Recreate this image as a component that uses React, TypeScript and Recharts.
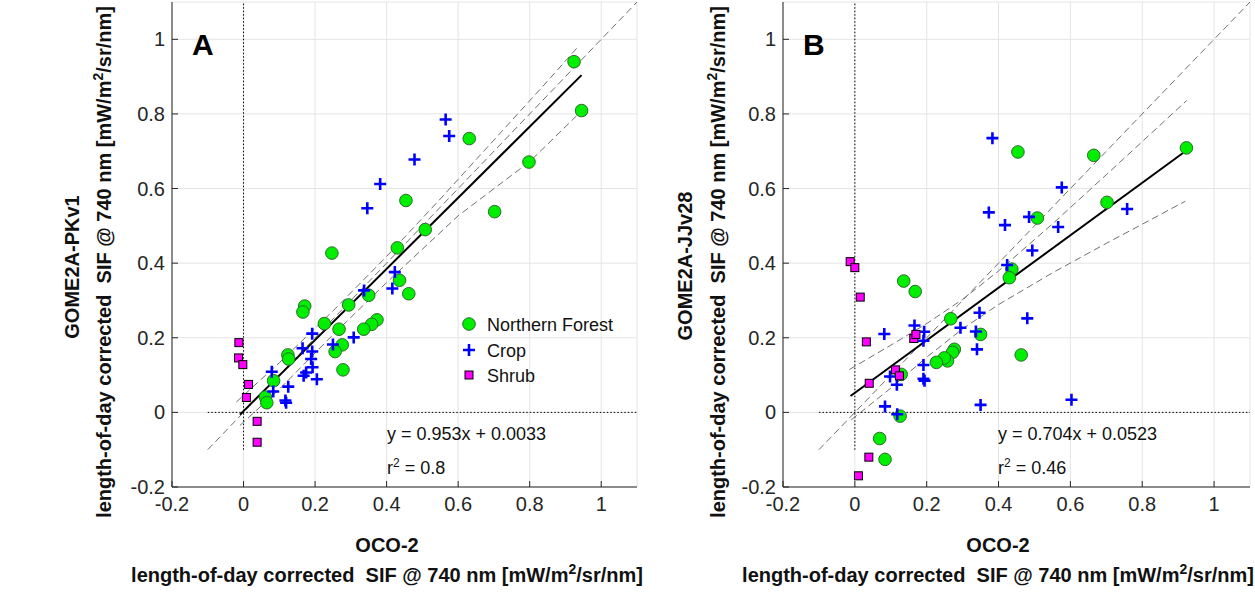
import React from 'react';
import {
  ScatterChart,
  Scatter,
  XAxis,
  YAxis,
  CartesianGrid,
  ReferenceLine,
} from 'recharts';

type Pt = { x: number; y: number };
const pts = (rows: number[][]): Pt[] => rows.map(([x, y]) => ({ x, y }));

const axisTicks = [-0.2, 0, 0.2, 0.4, 0.6, 0.8, 1];

// panel A: OCO-2 vs GOME2A-PKv1
const forestA = pts([
  [0.924, 0.94], [0.945, 0.809], [0.631, 0.734], [0.798, 0.671], [0.454, 0.568],
  [0.702, 0.538], [0.508, 0.49], [0.43, 0.441], [0.247, 0.427], [0.436, 0.354],
  [0.462, 0.318], [0.35, 0.314], [0.294, 0.288], [0.171, 0.285], [0.166, 0.269],
  [0.226, 0.238], [0.267, 0.223], [0.373, 0.248], [0.358, 0.236], [0.336, 0.223],
  [0.276, 0.181], [0.256, 0.163], [0.124, 0.154], [0.126, 0.143], [0.278, 0.114],
  [0.084, 0.085], [0.061, 0.041], [0.065, 0.026],
]);
const cropA = pts([
  [0.565, 0.785], [0.575, 0.741], [0.478, 0.678], [0.382, 0.612], [0.346, 0.547],
  [0.423, 0.376], [0.416, 0.332], [0.337, 0.327], [0.308, 0.201], [0.25, 0.182],
  [0.192, 0.211], [0.165, 0.172], [0.192, 0.163], [0.189, 0.143], [0.193, 0.121],
  [0.175, 0.107], [0.168, 0.098], [0.205, 0.089], [0.079, 0.109], [0.083, 0.056],
  [0.125, 0.069], [0.117, 0.032], [0.119, 0.026],
]);
const shrubA = pts([
  [-0.013, 0.187], [-0.014, 0.146], [-0.002, 0.128], [0.014, 0.075], [0.008, 0.04],
  [0.038, -0.024], [0.038, -0.08],
]);
const fitA = pts([[-0.01, -0.006], [0.945, 0.904]]);
const upperA = pts([
  [-0.02, 0.028], [0.1, 0.133], [0.25, 0.272], [0.4, 0.418], [0.55, 0.572],
  [0.7, 0.73], [0.85, 0.888], [0.937, 0.982],
]);
const lowerA = pts([
  [-0.01, -0.035], [0.1, 0.062], [0.25, 0.208], [0.4, 0.348], [0.6, 0.527],
  [0.8, 0.672], [0.945, 0.808],
]);

// panel B: OCO-2 vs GOME2A-JJv28
const forestB = pts([
  [0.923, 0.709], [0.454, 0.698], [0.665, 0.689], [0.702, 0.563], [0.508, 0.521],
  [0.437, 0.384], [0.43, 0.361], [0.136, 0.352], [0.168, 0.324], [0.267, 0.251],
  [0.35, 0.209], [0.463, 0.154], [0.277, 0.169], [0.272, 0.161], [0.258, 0.138],
  [0.249, 0.146], [0.227, 0.134], [0.129, 0.102], [0.126, -0.01], [0.069, -0.07],
  [0.084, -0.126],
]);
const cropB = pts([
  [0.383, 0.735], [0.576, 0.603], [0.373, 0.536], [0.418, 0.502], [0.485, 0.524],
  [0.566, 0.497], [0.758, 0.545], [0.494, 0.434], [0.424, 0.395], [0.347, 0.267],
  [0.48, 0.252], [0.294, 0.227], [0.337, 0.217], [0.34, 0.169], [0.166, 0.233],
  [0.193, 0.216], [0.191, 0.192], [0.082, 0.21], [0.191, 0.127], [0.191, 0.09],
  [0.194, 0.085], [0.098, 0.096], [0.117, 0.074], [0.084, 0.016], [0.118, -0.005],
  [0.35, 0.02], [0.603, 0.034],
]);
const shrubB = pts([
  [-0.013, 0.404], [0.0, 0.388], [0.015, 0.309], [0.032, 0.189], [0.164, 0.198],
  [0.17, 0.209], [0.113, 0.114], [0.124, 0.098], [0.04, 0.078], [0.039, -0.12],
  [0.01, -0.17],
]);
const fitB = pts([[-0.012, 0.044], [0.923, 0.702]]);
const upperB = pts([
  [-0.015, 0.115], [0.1, 0.18], [0.2, 0.238], [0.3, 0.303], [0.4, 0.379],
  [0.55, 0.505], [0.7, 0.637], [0.924, 0.836],
]);
const lowerB = pts([
  [-0.01, -0.02], [0.1, 0.065], [0.2, 0.148], [0.3, 0.224], [0.4, 0.289],
  [0.55, 0.374], [0.7, 0.453], [0.92, 0.566],
]);

const oneToOne = pts([[-0.1, -0.1], [1.1, 1.1]]);

const AX = '#262626';

const Circle = (p: any) => (
  <circle cx={p.cx} cy={p.cy} r={6.3} fill="#00ee00" stroke="#2e6b2e" strokeWidth={1} />
);
const Plus = (p: any) => (
  <path
    d={`M${p.cx - 6},${p.cy}H${p.cx + 6}M${p.cx},${p.cy - 6}V${p.cy + 6}`}
    stroke="#0000ff"
    strokeWidth={2.6}
    fill="none"
  />
);
const Square = (p: any) => (
  <rect x={p.cx - 4} y={p.cy - 4} width={8} height={8} fill="#ff00ff" stroke="#000" strokeWidth={1} />
);
const NoMark = () => <g />;

const dashed = { stroke: '#707070', strokeWidth: 1, strokeDasharray: '7 4' };

interface PanelProps {
  left: number;
  width: number;
  marginLeft: number;
  marginRight: number;
  forest: Pt[];
  crop: Pt[];
  shrub: Pt[];
  fit: Pt[];
  upper: Pt[];
  lower: Pt[];
}

function Panel({ left, width, marginLeft, marginRight, forest, crop, shrub, fit, upper, lower }: PanelProps) {
  const common = {
    type: 'number' as const,
    domain: [-0.2, 1.1],
    ticks: axisTicks,
    allowDataOverflow: true,
    interval: 0 as const,
    axisLine: { stroke: AX },
    tickLine: { stroke: AX },
    tickSize: -6,
  };
  return (
    <div style={{ position: 'absolute', left, top: 0 }}>
      <ScatterChart
        width={width}
        height={596}
        margin={{ top: 2, right: marginRight, bottom: 79, left: marginLeft }}
      >
        <CartesianGrid stroke="#e4e4e4" />
        <XAxis
          {...common}
          dataKey="x"
          height={30}
          tickMargin={16}
          tick={{ fill: AX, fontSize: 20 }}
          tickFormatter={(v) => String(v)}
        />
        <XAxis {...common} xAxisId="top" orientation="top" height={0} tick={false} />
        <YAxis
          {...common}
          dataKey="y"
          width={60}
          tickMargin={13}
          tick={{ fill: AX, fontSize: 20 }}
          tickFormatter={(v) => String(v)}
        />
        <YAxis {...common} yAxisId="right" orientation="right" width={0} tick={false} />

        <ReferenceLine
          segment={[{ x: 0, y: -0.1 }, { x: 0, y: 1.1 }]}
          stroke="#000"
          strokeDasharray="1.5 2"
          ifOverflow="visible"
        />
        <ReferenceLine
          segment={[{ x: -0.1, y: 0 }, { x: 1.1, y: 0 }]}
          stroke="#000"
          strokeDasharray="1.5 2"
          ifOverflow="visible"
        />

        <Scatter data={oneToOne} line={dashed} shape={NoMark} legendType="none" isAnimationActive={false} />
        <Scatter data={upper} line={dashed} shape={NoMark} legendType="none" isAnimationActive={false} />
        <Scatter data={lower} line={dashed} shape={NoMark} legendType="none" isAnimationActive={false} />
        <Scatter
          data={fit}
          line={{ stroke: '#000', strokeWidth: 2 }}
          shape={NoMark}
          legendType="none"
          isAnimationActive={false}
        />

        <Scatter name="Northern Forest" data={forest} shape={Circle} isAnimationActive={false} />
        <Scatter name="Crop" data={crop} shape={Plus} isAnimationActive={false} />
        <Scatter name="Shrub" data={shrub} shape={Square} isAnimationActive={false} />
      </ScatterChart>
    </div>
  );
}

const unitLabel = (
  <>
    length-of-day corrected{'\u00a0\u00a0'}SIF @ 740 nm [mW/m
    <tspan dy={-8} fontSize={14}>2</tspan>
    <tspan dy={8}>/sr/nm]</tspan>
  </>
);

function YTitle({ x1, x2, cy1, cy2, name }: { x1: number; x2: number; cy1: number; cy2: number; name: string }) {
  return (
    <g fontWeight="bold" fontSize={20} fill="#111">
      <text transform={`translate(${x1},${cy1}) rotate(-90)`} textAnchor="middle">
        {name}
      </text>
      <text transform={`translate(${x2},${cy2}) rotate(-90)`} textAnchor="middle">
        {unitLabel}
      </text>
    </g>
  );
}

function XTitle({ cx }: { cx: number }) {
  return (
    <g fontWeight="bold" fontSize={20} fill="#111" textAnchor="middle">
      <text x={cx} y={552}>OCO-2</text>
      <text x={cx} y={582}>{unitLabel}</text>
    </g>
  );
}

function Stats({ x, eq, r2 }: { x: number; eq: string; r2: string }) {
  return (
    <g fontSize={18} fill="#111">
      <text x={x} y={440}>{eq}</text>
      <text x={x} y={474}>
        r<tspan dy={-7} fontSize={12}>2</tspan>
        <tspan dy={7}> = {r2}</tspan>
      </text>
    </g>
  );
}

export default function App() {
  return (
    <div
      style={{
        position: 'absolute',
        left: 0,
        top: 0,
        width: 1255,
        height: 596,
        background: '#fff',
        fontFamily: '"Liberation Sans", Arial, Helvetica, sans-serif',
      }}
    >
      <Panel
        left={0}
        width={640}
        marginLeft={112}
        marginRight={3}
        forest={forestA}
        crop={cropA}
        shrub={shrubA}
        fit={fitA}
        upper={upperA}
        lower={lowerA}
      />
      <Panel
        left={640}
        width={615}
        marginLeft={83}
        marginRight={5}
        forest={forestB}
        crop={cropB}
        shrub={shrubB}
        fit={fitB}
        upper={upperB}
        lower={lowerB}
      />
      <svg
        width={1255}
        height={596}
        style={{ position: 'absolute', left: 0, top: 0, pointerEvents: 'none' }}
      >
        <text x={192} y={55} fontSize={30} fontWeight="bold" fill="#000">A</text>
        <text x={803} y={55} fontSize={30} fontWeight="bold" fill="#000">B</text>

        <YTitle x1={79} x2={111} cy1={267} cy2={262} name="GOME2A-PKv1" />
        <YTitle x1={692} x2={725} cy1={266} cy2={262} name="GOME2A-JJv28" />
        <XTitle cx={387} />
        <XTitle cx={998} />

        <Stats x={387} eq="y = 0.953x + 0.0033" r2="0.8" />
        <Stats x={998} eq="y = 0.704x + 0.0523" r2="0.46" />

        {/* legend */}
        <g fontSize={18} fill="#111">
          <Circle cx={469} cy={324} />
          <text x={487} y={331}>Northern Forest</text>
          <Plus cx={469} cy={350} />
          <text x={487} y={357}>Crop</text>
          <Square cx={469} cy={375} />
          <text x={487} y={382}>Shrub</text>
        </g>
      </svg>
    </div>
  );
}
